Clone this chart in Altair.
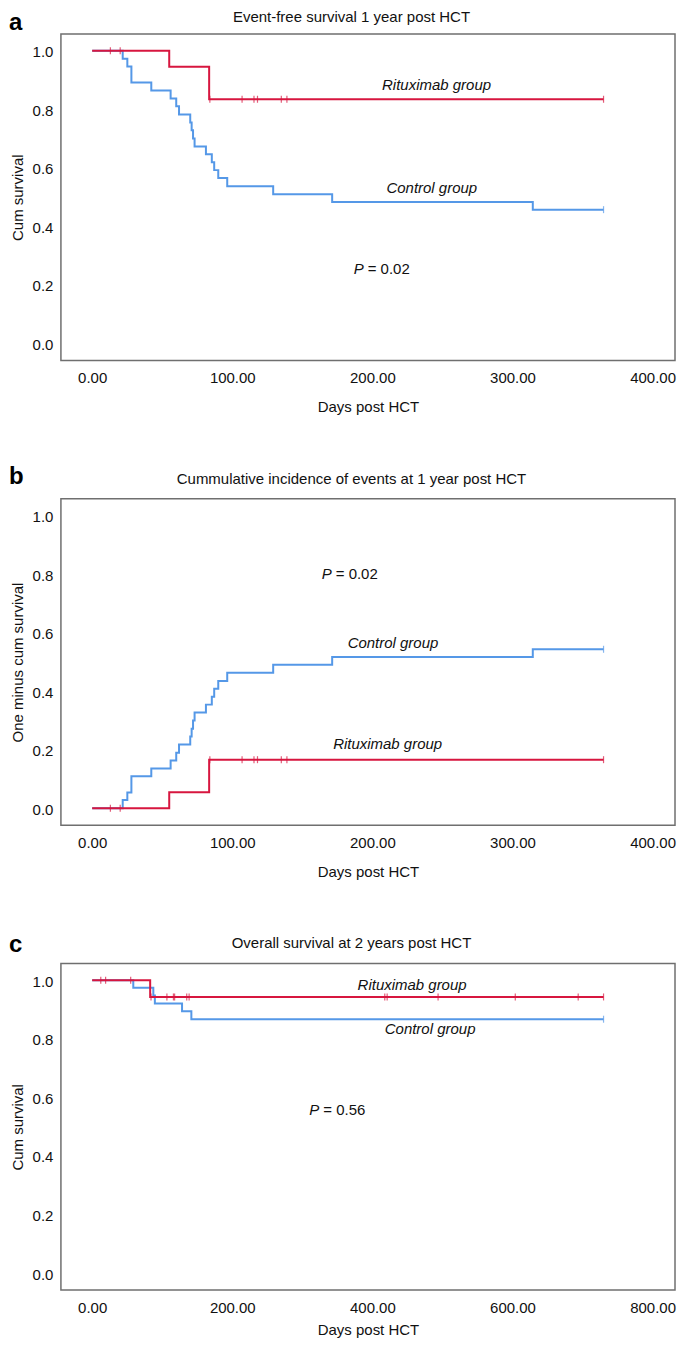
import altair as alt
import pandas as pd

# ---------------- data ----------------
# Event-free survival, 1 year (panels a and b)
ctrl_efs_days = [0, 21.8, 25.1, 28.0, 42.2, 56.0, 60.0, 62.0, 70.0, 71.0, 72.0, 73.1, 81.2, 85.4, 87.1, 90.0, 96.4, 129.2, 171.3, 314.5, 365]
ctrl_efs_surv = [1.0, 0.972, 0.946, 0.891, 0.864, 0.837, 0.810, 0.782, 0.755, 0.728, 0.700, 0.673, 0.646, 0.619, 0.592, 0.565, 0.537, 0.510, 0.483, 0.457, 0.457]
ctrl_efs_cens_days = [365]
ctrl_efs_cens_surv = [0.457]

rit_efs_days = [0, 55.0, 83.5, 365]
rit_efs_surv = [1.0, 0.945, 0.834, 0.834]
rit_efs_cens_days = [13.0, 20.0, 84.0, 107.0, 115.5, 118.0, 135.0, 139.0, 365]
rit_efs_cens_surv = [1.0, 1.0, 0.834, 0.834, 0.834, 0.834, 0.834, 0.834, 0.834]

# Overall survival, 2 years (panel c)
ctrl_os_days = [0, 58.7, 87.3, 89.5, 128.3, 141.6, 730]
ctrl_os_surv = [1.0, 0.974, 0.948, 0.921, 0.894, 0.867, 0.867]
ctrl_os_cens_days = [730]
ctrl_os_cens_surv = [0.867]

rit_os_days = [0, 82.8, 730]
rit_os_surv = [1.0, 0.943, 0.943]
rit_os_cens_days = [12.3, 19.2, 55.0, 84.0, 106.7, 116.0, 117.7, 135.0, 138.4, 417.7, 421.1, 493.8, 604.0, 693.8, 730]
rit_os_cens_surv = [1.0, 1.0, 1.0, 0.943, 0.943, 0.943, 0.943, 0.943, 0.943, 0.943, 0.943, 0.943, 0.943, 0.943, 0.943]

# annotations
titles = ["Event-free survival 1 year post HCT",
          "Cummulative incidence of events at 1 year post HCT",
          "Overall survival at 2 years post HCT"]
letters = ["a", "b", "c"]
ytitles = ["Cum survival", "One minus cum survival", "Cum survival"]
a_note_labels = ["Rituximab group", "Control group"]
a_note_days = [245.8, 242.4]
a_note_vals = [0.883, 0.531]
b_note_labels = ["Control group", "Rituximab group"]
b_note_days = [214.7, 210.9]
b_note_vals = [0.563, 0.220]
c_note_labels = ["Rituximab group", "Control group"]
c_note_days = [456.7, 482.4]
c_note_vals = [0.985, 0.834]
p_texts = ["= 0.02", "= 0.02", "= 0.56"]
p_days = [193.8, 171.0, 324.3]
p_vals = [0.256, 0.799, 0.557]

x_ticks_1y = [0, 100, 200, 300, 400]
x_ticks_2y = [0, 200, 400, 600, 800]
y_ticks = [0.0, 0.2, 0.4, 0.6, 0.8, 1.0]

# ---------------- style ----------------
RED = "#d7163f"
BLUE = "#5598e7"
FONT = "Liberation Sans"
FS = 15
W, H = 615, 327
YDOM = [-0.058, 1.057]
XDOM_1Y = [-22.3, 416.0]
XDOM_2Y = [-44.6, 832.0]


def panel(ctrl, rit, incidence, xdom, xticks, ytitle, notes, pnote, title, title_base,
          letter, letter_base, x_label_pad=10.5, x_title_pad=14):
    calc = "1 - datum.s" if incidence else "datum.s"
    x = alt.X("day:Q", scale=alt.Scale(domain=xdom, nice=False, zero=False),
              axis=alt.Axis(values=xticks, format=".2f", title="Days post HCT",
                            labelPadding=x_label_pad, titlePadding=x_title_pad))
    y = alt.Y("v:Q", scale=alt.Scale(domain=YDOM, nice=False, zero=False),
              axis=alt.Axis(values=y_ticks, format=".1f", title=ytitle))

    def line(days, vals, color):
        df = pd.DataFrame({"day": days, "s": vals})
        return (alt.Chart(df).transform_calculate(v=calc)
                .mark_line(interpolate="step-after", color=color, strokeWidth=2)
                .encode(x=x, y=y))

    def cens(days, vals, color):
        df = pd.DataFrame({"day": days, "s": vals})
        return (alt.Chart(df).transform_calculate(v=calc)
                .mark_tick(orient="vertical", size=7, thickness=1.2, color=color)
                .encode(x=x, y=y))

    ndf = pd.DataFrame({"day": notes[0], "v": notes[1], "label": notes[2]})
    note_layer = alt.Chart(ndf).mark_text(font=FONT, fontSize=FS, fontStyle="italic",
                                          baseline="middle", color="#111").encode(x=x, y=y, text="label:N")
    pdf = pd.DataFrame({"day": [pnote[0]], "v": [pnote[1]], "p": ["P"], "rest": [pnote[2]]})
    p_layer = alt.Chart(pdf).mark_text(font=FONT, fontSize=FS, fontStyle="italic", align="right",
                                       baseline="middle", color="#111").encode(x=x, y=y, text="p:N")
    rest_layer = alt.Chart(pdf).mark_text(font=FONT, fontSize=FS, align="left", dx=4,
                                          baseline="middle", color="#111").encode(x=x, y=y, text="rest:N")

    tdf = pd.DataFrame({"t": [title], "l": [letter]})
    title_layer = alt.Chart(tdf).mark_text(font=FONT, fontSize=FS, align="center", baseline="alphabetic",
                                           color="#111").encode(x=alt.value(291), y=alt.value(title_base), text="t:N")
    letter_layer = alt.Chart(tdf).mark_text(font=FONT, fontSize=24, fontWeight="bold", align="left",
                                            baseline="alphabetic", color="#000").encode(
        x=alt.value(-52), y=alt.value(letter_base), text="l:N")

    return alt.layer(
        line(ctrl[0], ctrl[1], BLUE),
        cens(ctrl[2], ctrl[3], BLUE),
        line(rit[0], rit[1], RED),
        cens(rit[2], rit[3], RED),
        note_layer, p_layer, rest_layer, title_layer, letter_layer,
    ).properties(width=W, height=H)


pa = panel((ctrl_efs_days, ctrl_efs_surv, ctrl_efs_cens_days, ctrl_efs_cens_surv),
           (rit_efs_days, rit_efs_surv, rit_efs_cens_days, rit_efs_cens_surv),
           False, XDOM_1Y, x_ticks_1y, ytitles[0],
           (a_note_days, a_note_vals, a_note_labels), (p_days[0], p_vals[0], p_texts[0]),
           titles[0], -12, letters[0], -4)
pb = panel((ctrl_efs_days, ctrl_efs_surv, ctrl_efs_cens_days, ctrl_efs_cens_surv),
           (rit_efs_days, rit_efs_surv, rit_efs_cens_days, rit_efs_cens_surv),
           True, XDOM_1Y, x_ticks_1y, ytitles[1],
           (b_note_days, b_note_vals, b_note_labels), (p_days[1], p_vals[1], p_texts[1]),
           titles[1], -14.5, letters[1], -15)
pc = panel((ctrl_os_days, ctrl_os_surv, ctrl_os_cens_days, ctrl_os_cens_surv),
           (rit_os_days, rit_os_surv, rit_os_cens_days, rit_os_cens_surv),
           False, XDOM_2Y, x_ticks_2y, ytitles[2],
           (c_note_days, c_note_vals, c_note_labels), (p_days[2], p_vals[2], p_texts[2]),
           titles[2], -15.3, letters[2], -11.5, x_label_pad=10.5, x_title_pad=6.5)

chart = (
    alt.vconcat(pa, pb, pc, spacing=138.5, bounds="flush")
    .properties(padding={"left": 0, "top": 0, "right": 0, "bottom": 0})
    .configure_view(stroke="#6f6f6f", strokeWidth=1.5)
    .configure_axis(domain=False, ticks=False, grid=False,
                    labelFont=FONT, labelFontSize=FS, labelColor="#111",
                    titleFont=FONT, titleFontSize=FS, titleFontWeight="normal", titleColor="#111")
    .configure_axisX(labelFlush=False)
    .configure_axisY(labelPadding=8, titlePadding=7, labelOffset=1)
)

chart.save("out.html", embed_options={"renderer": "svg", "actions": False})
